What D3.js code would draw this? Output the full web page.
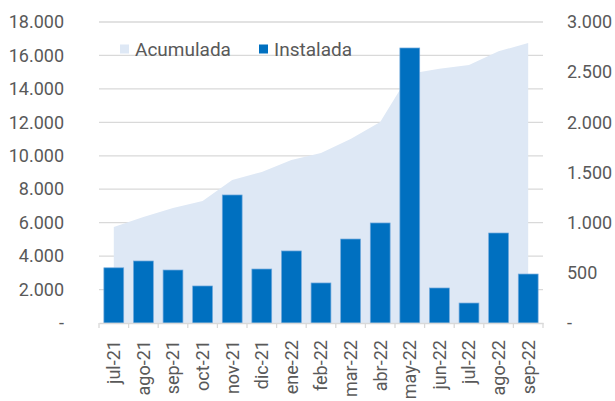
<!DOCTYPE html>
<html>
<head>
<meta charset="utf-8">
<script src="https://cdn.jsdelivr.net/npm/d3@7"></script>
<style>
  body { margin: 0; background: #fff; }
  text { font-family: Roboto, "Noto Sans", sans-serif; fill: #595959; }
</style>
</head>
<body>
<div id="chart"></div>
<script>
const width = 615, height = 401, margin = {top: 22, right: 72, bottom: 78, left: 99};

// Monthly data
const months = ["jul-21", "ago-21", "sep-21", "oct-21", "nov-21", "dic-21", "ene-22", "feb-22",
    "mar-22", "abr-22", "may-22", "jun-22", "jul-22", "ago-22", "sep-22"];
const acumulada = [5740, 6340, 6880, 7300, 8550, 9030, 9750, 10170, 11000, 12020, 14900, 15200, 15430, 16250, 16740];
const instalada = [550, 618, 528, 369, 1276, 538, 718, 399, 837, 997, 2741, 349, 199, 897, 488];
const leftTicks = [0, 2000, 4000, 6000, 8000, 10000, 12000, 14000, 16000, 18000];
const rightTicks = [0, 500, 1000, 1500, 2000, 2500, 3000];

const fmt = v => v === 0 ? "-" : d3.format(",")(v).replace(/,/g, ".");

const svg = d3.select("#chart").append("svg")
    .attr("width", width)
    .attr("height", height);

const x = d3.scaleBand()
    .domain(months)
    .range([margin.left, width - margin.right])
    .paddingInner(0.33)
    .paddingOuter(0.165);

const xs = d3.scaleBand().domain(months).range([margin.left, width - margin.right]);

const yL = d3.scaleLinear().domain([0, 18000]).range([height - margin.bottom, margin.top]);
const yR = d3.scaleLinear().domain([0, 3000]).range([height - margin.bottom, margin.top]);

// gridlines
svg.append("g")
    .selectAll("line")
    .data(leftTicks.slice(1))
    .enter().append("line")
    .attr("x1", margin.left)
    .attr("x2", width - margin.right)
    .attr("y1", d => yL(d))
    .attr("y2", d => yL(d))
    .attr("stroke", "#d9d9d9")
    .attr("stroke-width", 1.3);

// Acumulada area
const area = d3.area()
    .x((d, i) => xs(months[i]) + xs.bandwidth() / 2)
    .y0(yL(0))
    .y1(d => yL(d));

svg.append("path")
    .datum(acumulada)
    .attr("fill", "#dee8f5")
    .attr("d", area);

// Instalada bars
svg.append("g")
    .selectAll("rect")
    .data(instalada)
    .enter().append("rect")
    .attr("x", (d, i) => x(months[i]))
    .attr("y", d => yR(d))
    .attr("width", x.bandwidth())
    .attr("height", d => yR(0) - yR(d))
    .attr("fill", "#0070c0")
    .attr("stroke", "#6fa8dc")
    .attr("stroke-width", 0.7);

// x axis
const xAxis = svg.append("g")
    .attr("transform", `translate(0,${height - margin.bottom})`)
    .call(d3.axisBottom(xs).tickSize(0).tickPadding(0));
xAxis.select(".domain").attr("stroke", "#d9d9d9").attr("stroke-width", 1.3);
xAxis.selectAll(".tick text")
    .attr("transform", "rotate(-90)")
    .attr("text-anchor", "end")
    .attr("dx", "-0.95em")
    .attr("dy", "0.35em")
    .attr("x", 0).attr("y", 0)
    .style("font-size", "18px");

// tick marks between categories
svg.append("g")
    .selectAll("line")
    .data(months.concat(["end"]))
    .enter().append("line")
    .attr("x1", (d, i) => margin.left + i * xs.step())
    .attr("x2", (d, i) => margin.left + i * xs.step())
    .attr("y1", yL(0))
    .attr("y2", yL(0) + 5)
    .attr("stroke", "#d9d9d9")
    .attr("stroke-width", 1.3);

// left axis
const left = svg.append("g")
    .attr("transform", `translate(${margin.left - 35},0)`)
    .call(d3.axisLeft(yL).tickValues(leftTicks).tickFormat(fmt).tickSize(0).tickPadding(0));
left.select(".domain").remove();
left.selectAll("text").style("font-size", "18px");

// right axis
const right = svg.append("g")
    .attr("transform", `translate(${width - margin.right + 24},0)`)
    .call(d3.axisRight(yR).tickValues(rightTicks).tickFormat(fmt).tickSize(0).tickPadding(0));
right.select(".domain").remove();
right.selectAll("text").style("font-size", "18px");

// legend
const legend = svg.append("g").attr("transform", "translate(120,49)");
const items = [["Acumulada", "#dee8f5", 0], ["Instalada", "#0070c0", 139]];
items.forEach(([label, color, dx]) => {
    legend.append("rect")
        .attr("x", dx).attr("y", -4.5)
        .attr("width", 9).attr("height", 9)
        .attr("fill", color);
    legend.append("text")
        .attr("x", dx + 15).attr("y", 0)
        .attr("dy", "0.35em")
        .style("font-size", "19px")
        .text(label);
});
</script>
</body>
</html>
